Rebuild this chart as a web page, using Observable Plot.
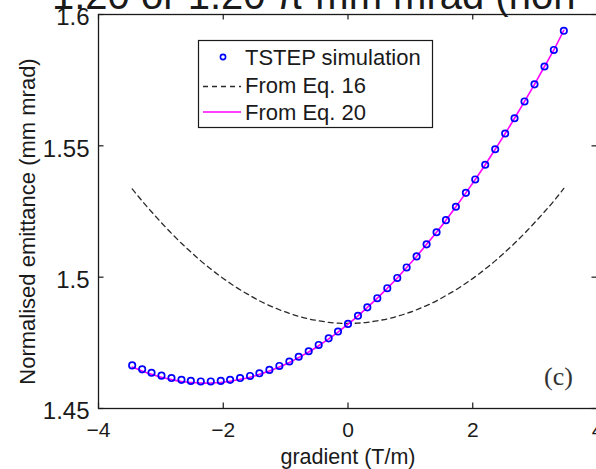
<!DOCTYPE html>
<html><head><meta charset="utf-8">
<script src="https://cdn.jsdelivr.net/npm/d3@7"></script>
<script src="https://cdn.jsdelivr.net/npm/@observablehq/plot@0.6"></script>
<style>
html,body{margin:0;padding:0;background:#fff;overflow:hidden;width:596px;height:469px;}
#chart{position:relative;width:596px;height:469px;overflow:hidden;}
</style></head><body><div id="chart"></div>
<script>
// gradient values (T/m) of the simulated points
const gradient = [-3.46,-3.30,-3.15,-2.99,-2.83,-2.67,-2.52,-2.36,-2.20,-2.04,-1.89,-1.73,-1.57,-1.42,-1.26,-1.10,-0.94,-0.79,-0.63,-0.47,-0.31,-0.16,0.00,0.16,0.31,0.47,0.63,0.79,0.94,1.10,1.26,1.42,1.57,1.73,1.89,2.04,2.20,2.36,2.52,2.67,2.83,2.99,3.15,3.30,3.46];
// TSTEP simulation (mm mrad)
const tstep = [1.4664,1.4649,1.4636,1.4625,1.4616,1.4609,1.4605,1.4603,1.4603,1.4605,1.4609,1.4616,1.4624,1.4634,1.4647,1.4662,1.4679,1.4697,1.4718,1.4742,1.4767,1.4793,1.4822,1.4853,1.4885,1.4920,1.4958,1.4997,1.5037,1.5079,1.5125,1.5171,1.5217,1.5268,1.5321,1.5372,1.5428,1.5487,1.5547,1.5605,1.5669,1.5734,1.5802,1.5865,1.5938];
// From Eq. 16
const eq16 = [1.5336,1.5290,1.5249,1.5207,1.5167,1.5129,1.5096,1.5062,1.5031,1.5002,1.4977,1.4952,1.4930,1.4910,1.4892,1.4876,1.4862,1.4851,1.4841,1.4834,1.4828,1.4825,1.4824,1.4825,1.4828,1.4834,1.4841,1.4851,1.4862,1.4876,1.4892,1.4910,1.4930,1.4952,1.4977,1.5002,1.5031,1.5062,1.5096,1.5129,1.5167,1.5207,1.5249,1.5290,1.5338];
// From Eq. 20
const eq20 = [1.4658,1.4643,1.4630,1.4619,1.4610,1.4603,1.4599,1.4597,1.4597,1.4599,1.4604,1.4611,1.4619,1.4630,1.4643,1.4658,1.4675,1.4694,1.4715,1.4739,1.4765,1.4791,1.4821,1.4853,1.4885,1.4920,1.4958,1.4997,1.5037,1.5079,1.5125,1.5171,1.5217,1.5268,1.5321,1.5372,1.5428,1.5487,1.5547,1.5605,1.5669,1.5734,1.5802,1.5865,1.5940];

const xTicks = [-4,-2,0,2,4];
const yTicks = [1.45,1.5,1.55,1.6];
const yTickLabels = ["1.45","1.5","1.55","1.6"];
const legendLabels = ["TSTEP simulation","From Eq. 16","From Eq. 20"];
const xLabel = "gradient (T/m)";
const yLabel = "Normalised emittance (mm mrad)";
const panelLabel = "(c)";
const headerText = "1.20 or 1.20 \u03c0 mm mrad (non";

const W = 600, H = 469, ML = 98, MR = 3, MT = 14, MB = 61;
const innerW = W - ML - MR, innerH = H - MT - MB;
const font = "'Liberation Sans', Arial, Helvetica, sans-serif";
const ink = "#1a1a1a";

const sim = gradient.map((g, i) => ({g, e: tstep[i]}));
const d16 = gradient.map((g, i) => ({g, e: eq16[i]}));
const d20 = gradient.map((g, i) => ({g, e: eq20[i]}));

const plot = Plot.plot({
  width: W, height: H,
  marginLeft: ML, marginRight: MR, marginTop: MT, marginBottom: MB,
  style: {fontFamily: font, background: "white", maxWidth: "none", color: ink},
  x: {domain: [-4, 4]},
  y: {domain: [1.45, 1.6]},
  marks: [
    Plot.line(d16, {x: "g", y: "e", stroke: "#2a2a2a", strokeWidth: 1.3, strokeDasharray: "5,4", curve: "natural"}),
    Plot.line(d20, {x: "g", y: "e", stroke: "#ff00ff", strokeWidth: 1.6, curve: "natural"}),
    Plot.dot(sim, {x: "g", y: "e", r: 3.2, stroke: "#0000ff", strokeWidth: 1.7, fill: "none"}),
    Plot.frame({stroke: ink, strokeWidth: 1.3}),
    Plot.tickX(xTicks, {x: d => d, insetTop: innerH - 5.5, stroke: ink, strokeWidth: 1.2}),
    Plot.tickX(xTicks, {x: d => d, insetBottom: innerH - 5.5, stroke: ink, strokeWidth: 1.2}),
    Plot.tickY(yTicks, {y: d => d, insetRight: innerW - 5.5, stroke: ink, strokeWidth: 1.2}),
    Plot.tickY(yTicks, {y: d => d, insetLeft: innerW - 5.5, stroke: ink, strokeWidth: 1.2}),
    Plot.axisX(xTicks, {tickSize: 0, tickPadding: 14, fontSize: 21, label: null}),
    Plot.axisY(yTicks, {tickSize: 0, tickPadding: 9, fontSize: 24, label: null, dy: 3,
      tickFormat: d => yTickLabels[yTicks.indexOf(d)]}),
    Plot.text([xLabel], {frameAnchor: "bottom", dy: 48.6, fontSize: 21.5, lineAnchor: "middle", textAnchor: "middle"}),
    Plot.text([yLabel], {frameAnchor: "left", dx: -71, dy: 10, rotate: -90, fontSize: 22, textAnchor: "middle", lineAnchor: "middle"}),
    Plot.text([panelLabel], {frameAnchor: "bottom-right", dx: -39, dy: -32, textAnchor: "middle", lineAnchor: "middle",
      fontFamily: "'Liberation Serif', 'DejaVu Serif', serif", fontSize: 26, fill: "#333"})
  ]
});

const svg = d3.select(plot);
// cropped header line of the original page
svg.append("text").attr("x", 52).attr("y", 9).attr("font-size", 40)
  .attr("text-anchor", "start")
  .attr("font-family", font).attr("fill", ink).text(headerText);

// legend
const lg = svg.append("g").attr("font-family", font).attr("font-size", 22)
  .attr("fill", ink).attr("text-anchor", "start");
lg.append("rect").attr("x", 198.5).attr("y", 40.5).attr("width", 234).attr("height", 87)
  .attr("fill", "white").attr("stroke", ink).attr("stroke-width", 1.2);
lg.append("circle").attr("cx", 223).attr("cy", 57).attr("r", 2.6)
  .attr("fill", "none").attr("stroke", "#0000ff").attr("stroke-width", 1.6);
lg.append("line").attr("x1", 203).attr("x2", 241).attr("y1", 86.5).attr("y2", 86.5)
  .attr("stroke", "#2a2a2a").attr("stroke-width", 1.3).attr("stroke-dasharray", "5,4");
lg.append("line").attr("x1", 203).attr("x2", 241).attr("y1", 112).attr("y2", 112)
  .attr("stroke", "#ff00ff").attr("stroke-width", 1.6);
const baselines = [65, 93, 119.5];
legendLabels.forEach((t, i) => {
  lg.append("text").attr("x", 245).attr("y", baselines[i]).text(t);
});

document.getElementById("chart").append(plot);
</script></body></html>
